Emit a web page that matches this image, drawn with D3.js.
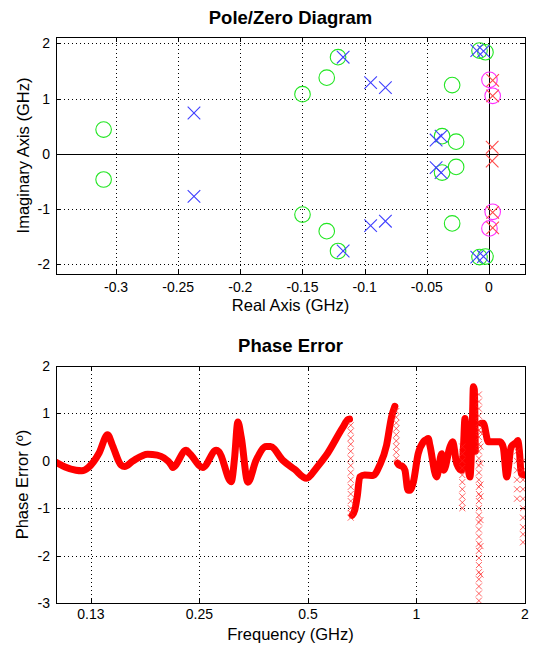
<!DOCTYPE html>
<html>
<head>
<meta charset="utf-8">
<script src="https://cdn.jsdelivr.net/npm/d3@7"></script>
<style>
  body { margin: 0; background: #fff; }
  svg { display: block; font-family: "Liberation Sans", Arial, sans-serif; }
</style>
</head>
<body>
<svg id="chart" width="539" height="645"></svg>
<script>
// pole / zero positions (GHz)
const zeroRe = [-0.310, -0.310, -0.150, -0.150, -0.1305, -0.1305, -0.1214, -0.1214, -0.0296, -0.0296,
                -0.0377, -0.0377, -0.0264, -0.0264, -0.0076, -0.0076, -0.0028, -0.0028];
const zeroIm = [0.44, -0.465, 1.08, -1.10, 1.38, -1.40, 1.75, -1.76, 1.245, -1.26,
                0.32, -0.34, 0.22, -0.236, 1.87, -1.87, 1.84, -1.86];
const poleRe = [-0.2373, -0.2373, -0.1173, -0.1173, -0.0952, -0.0952, -0.0833, -0.0833,
                -0.0425, -0.0425, -0.0385, -0.0385, -0.0098, -0.0098, -0.0044, -0.0044];
const poleIm = [0.74, -0.77, 1.75, -1.76, 1.29, -1.30, 1.20, -1.22,
                0.25, -0.25, 0.32, -0.34, 1.87, -1.87, 1.86, -1.86];
const zeroRe2 = [0.0004, 0.003, 0.003, 0.0004];
const zeroIm2 = [1.34, 1.05, -1.05, -1.35];
const poleRe2 = [0.003, 0.003, 0.0026, 0.0026, 0.003, 0.003];
const poleIm2 = [1.33, 1.05, 0.12, -0.13, -1.06, -1.34];

const pzXTicks = [-0.3, -0.25, -0.2, -0.15, -0.1, -0.05, 0];
const pzXLabels = ["-0.3", "-0.25", "-0.2", "-0.15", "-0.1", "-0.05", "0"];
const pzYTicks = [-2, -1, 0, 1, 2];

// phase error, dense band (null = gap)
const phaseFreq = [0.100, 0.106, 0.1136, 0.118, 0.123, 0.1318, 0.139, 0.1435, 0.1515, 0.155, 0.163,
  0.1796, 0.1909, 0.2084, 0.2107, 0.2296, 0.2351, 0.2554, 0.2782, 0.2833, 0.3063, 0.3128, 0.3195,
  0.3265, 0.3406, 0.359, 0.383, 0.3937, 0.426, 0.459, 0.495, 0.5277, 0.5625, 0.624, 0.6458, 0.652,
  0.657,
  0.663, 0.674, 0.685, 0.696, 0.718, 0.758, 0.791, 0.826, 0.853, 0.871,
  0.879,
  0.886, 0.894, 0.915, 0.929, 0.947, 0.959, 0.98, 1.011, 1.045, 1.066, 1.078, 1.09, 1.137, 1.175,
  1.19, 1.238, 1.26, 1.293, 1.335, 1.35, 1.363, 1.375, 1.39, 1.407, 1.43, 1.438, 1.447, 1.456,
  1.47,
  1.515, 1.533, 1.582, 1.705, 1.74, 1.78, 1.83, 1.897, 1.91, 1.93, 1.952, 1.99];
const phaseErr = [-0.03, -0.13, -0.20, -0.21, -0.14, 0.17, 0.55, 0.32, -0.09, -0.12, -0.01,
  0.14, 0.12, -0.08, -0.14, 0.22, 0.15, -0.14, 0.22, 0.19, -0.44, 0.05, 0.82,
  0.50, -0.45, 0.01, 0.30, 0.30, 0.01, -0.18, -0.37, -0.15, 0.12, 0.70, 0.87, 0.88,
  null,
  -1.15, -1.04, -0.75, -0.34, -0.30, -0.31, -0.09, 0.33, 0.93, 1.15,
  null,
  -0.05, -0.09, -0.12, -0.20, -0.62, -0.62, -0.45, 0.15, 0.40, 0.45, 0.47, 0.32, -0.34, 0.15,
  -0.20, 0.29, 0.40, -0.06, -0.20, 0.30, 0.89, 0.50, -0.10, -0.34, 0.9, 1.56, 1.5, 0.2,
  null,
  0.79, 0.79, 0.40, 0.40, 0.29, -0.34, 0.29, 0.40, 0.43, 0.20, -0.27, -0.30];

// phase error, sparse marker columns
const spikeFreq = [0.657, 0.879, 1.34, 1.49, 1.505, 1.9, 1.975];
const spikeErr = [
  [0.75, 0.62, 0.48, 0.35, 0.2, 0.05, -0.1, -0.25, -0.4, -0.55, -0.7, -0.85, -1.0, -1.1, -1.2],
  [1.05, 0.92, 0.8, 0.68, 0.55, 0.42, 0.3, 0.18, 0.05],
  [0.3, 0.15, 0.0, -0.15, -0.3, -0.45, -0.6, -0.75, -0.88, -1.0],
  [1.4, 1.25, 1.1, 0.95, 0.8, 0.65, 0.5, 0.35, 0.2, 0.05, -0.1, -0.25, -0.4, -0.55, -0.7, -0.85,
   -1.0, -1.15, -1.3, -1.45, -1.6, -1.75, -1.9, -2.05, -2.2, -2.35, -2.5, -2.65, -2.8, -2.95],
  [0.6, 0.3, -0.05, -0.5, -0.75, -1.25, -1.8, -2.4],
  [0.2, 0.0, -0.2, -0.4, -0.6, -0.8],
  [0.0, -0.2, -0.4, -0.6, -0.8, -1.0, -1.2, -1.4, -1.55, -1.72]
];

const feXTicks = [0.125, 0.25, 0.5, 1, 2];
const feXLabels = ["0.13", "0.25", "0.5", "1", "2"];
const feYTicks = [-3, -2, -1, 0, 1, 2];

const svg = d3.select("#chart");

function xMark(s) {
  return `M${-s},${-s}L${s},${s}M${-s},${s}L${s},${-s}`;
}

function frame(g, x, y, xt, xl, yt, tlen, lab) {
  const [x0, x1] = x.range(), [y0, y1] = y.range();
  // dotted grid
  g.selectAll(".gx").data(xt).join("line")
    .attr("x1", d => Math.round(x(d)) + 0.5).attr("x2", d => Math.round(x(d)) + 0.5)
    .attr("y1", y1).attr("y2", y0)
    .attr("stroke", "#000").attr("stroke-dasharray", "1,3");
  g.selectAll(".gy").data(yt).join("line")
    .attr("y1", d => Math.round(y(d)) + 0.5).attr("y2", d => Math.round(y(d)) + 0.5)
    .attr("x1", x0).attr("x2", x1)
    .attr("stroke", "#000").attr("stroke-dasharray", "1,3");
  const tk = g.append("g").attr("stroke", "#000");
  xt.forEach(d => {
    const px = Math.round(x(d)) + 0.5;
    tk.append("line").attr("x1", px).attr("x2", px).attr("y1", y0).attr("y2", y0 - tlen);
    tk.append("line").attr("x1", px).attr("x2", px).attr("y1", y1).attr("y2", y1 + tlen);
  });
  yt.forEach(d => {
    const py = Math.round(y(d)) + 0.5;
    tk.append("line").attr("y1", py).attr("y2", py).attr("x1", x0).attr("x2", x0 + tlen);
    tk.append("line").attr("y1", py).attr("y2", py).attr("x1", x1).attr("x2", x1 - tlen);
  });
  g.selectAll(".xl").data(xt).join("text")
    .attr("x", d => x(d)).attr("y", y0 + lab)
    .attr("text-anchor", "middle").attr("font-size", 14).text((d, i) => xl[i]);
  g.selectAll(".yl").data(yt).join("text")
    .attr("x", x0 - 6).attr("y", d => y(d) + 5)
    .attr("text-anchor", "end").attr("font-size", 14).text(d => d);
}

function box(g, x, y) {
  const [x0, x1] = x.range(), [y0, y1] = y.range();
  g.append("rect").attr("x", x0 + 0.5).attr("y", y1 + 0.5)
    .attr("width", x1 - x0).attr("height", y0 - y1)
    .attr("fill", "none").attr("stroke", "#000");
}

function labels(g, x, y, title, xlab, ylab, tb, xb, yb) {
  const [x0, x1] = x.range(), [y0, y1] = y.range();
  g.append("text").attr("x", (x0 + x1) / 2).attr("y", tb).attr("text-anchor", "middle")
    .attr("font-size", 18.5).attr("font-weight", "bold").text(title);
  g.append("text").attr("x", (x0 + x1) / 2).attr("y", xb).attr("text-anchor", "middle")
    .attr("font-size", 16.5).text(xlab);
  g.append("text").attr("transform", `translate(${yb},${(y0 + y1) / 2}) rotate(-90)`)
    .attr("text-anchor", "middle").attr("font-size", 16.5).text(ylab);
}

// ---------- pole / zero diagram ----------
const xPZ = d3.scaleLinear().domain([-0.3483, 0.029]).range([56, 525]);
const yPZ = d3.scaleLinear().domain([-2.176, 2.116]).range([274, 37]);
const gPZ = svg.append("g");
frame(gPZ, xPZ, yPZ, pzXTicks, pzXLabels, pzYTicks, 4, 18);
gPZ.append("line").attr("x1", 56).attr("x2", 525)
  .attr("y1", Math.round(yPZ(0)) + 0.5).attr("y2", Math.round(yPZ(0)) + 0.5).attr("stroke", "#000");
gPZ.append("line").attr("y1", 37).attr("y2", 274)
  .attr("x1", Math.round(xPZ(0)) + 0.5).attr("x2", Math.round(xPZ(0)) + 0.5).attr("stroke", "#000");

gPZ.selectAll(".z").data(zeroRe).join("circle")
  .attr("cx", d => xPZ(d)).attr("cy", (d, i) => yPZ(zeroIm[i])).attr("r", 7.8)
  .attr("fill", "none").attr("stroke", "#22e622").attr("stroke-width", 1.1);
gPZ.selectAll(".p").data(poleRe).join("path")
  .attr("transform", (d, i) => `translate(${xPZ(d)},${yPZ(poleIm[i])})`)
  .attr("d", xMark(6.3)).attr("fill", "none").attr("stroke", "#3f3fff").attr("stroke-width", 1.1);
gPZ.selectAll(".z2").data(zeroRe2).join("circle")
  .attr("cx", d => xPZ(d)).attr("cy", (d, i) => yPZ(zeroIm2[i])).attr("r", 7.8)
  .attr("fill", "none").attr("stroke", "#ff2eff").attr("stroke-width", 1.1);
gPZ.selectAll(".p2").data(poleRe2).join("path")
  .attr("transform", (d, i) => `translate(${xPZ(d)},${yPZ(poleIm2[i])})`)
  .attr("d", xMark(6.3)).attr("fill", "none").attr("stroke", "#ff4a4a").attr("stroke-width", 1.1);
box(gPZ, xPZ, yPZ);
labels(gPZ, xPZ, yPZ, "Pole/Zero Diagram", "Real Axis (GHz)", "Imaginary Axis (GHz)", 23.5, 311, 29);

// ---------- phase error ----------
const xFE = d3.scaleLog().domain([0.1, 2]).range([56, 525]);
const yFE = d3.scaleLinear().domain([-3, 2]).range([603, 366]);
const gFE = svg.append("g");
frame(gFE, xFE, yFE, feXTicks, feXLabels, feYTicks, 4, 16);

svg.append("clipPath").attr("id", "feclip").append("rect")
  .attr("x", 56).attr("y", 366).attr("width", 470).attr("height", 238);
const plot = gFE.append("g").attr("clip-path", "url(#feclip)");

const band = d3.line()
  .defined(d => d[1] !== null)
  .x(d => xFE(d[0])).y(d => yFE(d[1]))
  .curve(d3.curveMonotoneX);
plot.append("path")
  .datum(phaseFreq.map((f, i) => [f, phaseErr[i]]))
  .attr("d", band).attr("fill", "none").attr("stroke", "#ff0000")
  .attr("stroke-width", 7).attr("stroke-linejoin", "round").attr("stroke-linecap", "round");

spikeFreq.forEach((f, k) => {
  plot.selectAll(null).data(spikeErr[k]).join("path")
    .attr("transform", d => `translate(${xFE(f)},${yFE(d)})`)
    .attr("d", xMark(3)).attr("fill", "none").attr("stroke", "#ff2020")
    .attr("stroke-opacity", 0.7).attr("stroke-width", 1);
});

box(gFE, xFE, yFE);
labels(gFE, xFE, yFE, "Phase Error", "Frequency (GHz)", "Phase Error (º)", 352, 640, 28);
</script>
</body>
</html>
